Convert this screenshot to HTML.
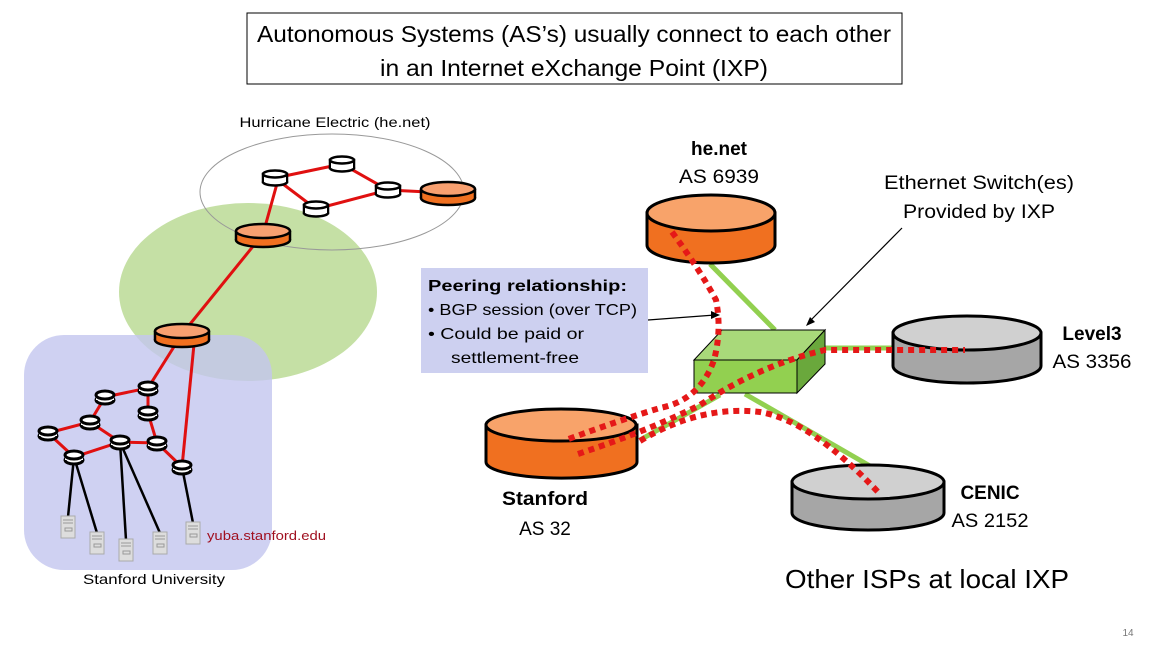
<!DOCTYPE html>
<html><head><meta charset="utf-8"><style>
html,body{margin:0;padding:0;background:#fff;}
svg{display:block;font-family:"Liberation Sans",sans-serif;}
</style></head><body>
<svg width="1152" height="648" viewBox="0 0 1152 648" xmlns="http://www.w3.org/2000/svg">
<defs>
<g id="sr"><rect x="-12" y="-4" width="24" height="8" fill="#fff" stroke="#000" stroke-width="2.5"/><ellipse cx="0" cy="4" rx="12" ry="3.5" fill="#fff" stroke="#000" stroke-width="2.5"/><rect x="-11" y="-4" width="22" height="8" fill="#fff"/><ellipse cx="0" cy="-4" rx="12" ry="3.5" fill="#fff" stroke="#000" stroke-width="2.5"/></g>
<g id="ss"><ellipse cx="0" cy="3" rx="9" ry="4" fill="#fff" stroke="#000" stroke-width="3"/><rect x="-9" y="-3" width="18" height="6" fill="#fff"/><ellipse cx="0" cy="-2" rx="9" ry="4" fill="#fff" stroke="#000" stroke-width="3"/></g>
<g id="or"><ellipse cx="0" cy="5" rx="27" ry="7" fill="#f07020" stroke="#000" stroke-width="2.5"/><rect x="-26" y="-4" width="52" height="9" fill="#f07020"/><line x1="-27" y1="-4" x2="-27" y2="5" stroke="#000" stroke-width="2.5"/><line x1="27" y1="-4" x2="27" y2="5" stroke="#000" stroke-width="2.5"/><ellipse cx="0" cy="-4" rx="27" ry="7" fill="#f8a070" stroke="#000" stroke-width="2.5"/></g>
<g id="sv"><rect x="-7" y="-11" width="14" height="22" fill="#ddd" stroke="#aaa"/><line x1="-5" y1="-7" x2="5" y2="-7" stroke="#999"/><line x1="-5" y1="-4" x2="5" y2="-4" stroke="#999"/><rect x="-3" y="1" width="7" height="3" fill="none" stroke="#999"/></g>
</defs>
<rect x="247" y="13" width="655" height="71" fill="#fff" stroke="#000" stroke-width="1"/>
<text x="574" y="42" font-size="23" text-anchor="middle" textLength="634" lengthAdjust="spacingAndGlyphs">Autonomous Systems (AS’s) usually connect to each other</text>
<text x="574" y="76" font-size="23" text-anchor="middle" textLength="388" lengthAdjust="spacingAndGlyphs">in an Internet eXchange Point (IXP)</text>
<text x="335" y="127" font-size="14" text-anchor="middle" textLength="191" lengthAdjust="spacingAndGlyphs">Hurricane Electric (he.net)</text>
<ellipse cx="248" cy="292" rx="129" ry="89" fill="#c5e0a5"/>
<ellipse cx="332" cy="192" rx="132" ry="58" fill="none" stroke="#999" stroke-width="1"/>
<rect x="24" y="335" width="248" height="235" rx="40" fill="#c3c6ef" fill-opacity="0.8"/>
<g stroke="#e01010" stroke-width="3" fill="none">
<path d="M275 178 L342 164 L388 190 L316 209 Z M342 164 L275 178"/>
<line x1="388" y1="190" x2="448" y2="193"/>
<line x1="278" y1="180" x2="263" y2="234"/>
<line x1="263" y1="234" x2="182" y2="334"/>
<line x1="182" y1="334" x2="148" y2="388"/>
<line x1="195" y1="334" x2="182" y2="467"/>
<path d="M148 388 L105 397 L90 422 L48 433 L74 457 L120 442 L157 443 L148 413 L148 388"/>
<path d="M90 422 L120 442 M157 443 L182 467"/>
</g>
<g stroke="#000" stroke-width="2.5"><line x1="74" y1="457" x2="68" y2="517"/><line x1="74" y1="457" x2="97" y2="533"/><line x1="120" y1="442" x2="126" y2="540"/><line x1="120" y1="442" x2="160" y2="533"/><line x1="182" y1="467" x2="193" y2="523"/></g>
<use href="#sr" x="275" y="178"/><use href="#sr" x="342" y="164"/><use href="#sr" x="388" y="190"/><use href="#sr" x="316" y="209"/>
<use href="#or" x="448" y="193"/><use href="#or" x="263" y="235"/><use href="#or" x="182" y="335"/>
<use href="#ss" x="148" y="388"/><use href="#ss" x="105" y="397"/><use href="#ss" x="148" y="413"/><use href="#ss" x="90" y="422"/><use href="#ss" x="48" y="433"/><use href="#ss" x="120" y="442"/><use href="#ss" x="157" y="443"/><use href="#ss" x="74" y="457"/><use href="#ss" x="182" y="467"/>
<use href="#sv" x="68" y="527"/><use href="#sv" x="97" y="543"/><use href="#sv" x="126" y="550"/><use href="#sv" x="160" y="543"/><use href="#sv" x="193" y="533"/>
<text x="207" y="540" font-size="13" fill="#a01020" textLength="119" lengthAdjust="spacingAndGlyphs">yuba.stanford.edu</text>
<text x="154" y="584" font-size="14" text-anchor="middle" textLength="142" lengthAdjust="spacingAndGlyphs">Stanford University</text>

<g stroke="#92d050" stroke-width="5"><line x1="710" y1="264" x2="775" y2="330"/><line x1="640" y1="440" x2="720" y2="395"/><line x1="745" y1="394" x2="870" y2="466"/><line x1="825" y1="348" x2="895" y2="348"/></g>
<path d="M647 213 V245 A64 18 0 0 0 775 245 V213 Z" fill="#f07020" stroke="#000" stroke-width="3"/>
<ellipse cx="711" cy="213" rx="64" ry="18" fill="#f8a36a" stroke="#000" stroke-width="3"/>
<path d="M486 425 V462 A75 16 0 0 0 637 462 V425 Z" fill="#f07020" stroke="#000" stroke-width="3"/>
<ellipse cx="561" cy="425" rx="75" ry="16" fill="#f8a36a" stroke="#000" stroke-width="3"/>
<path d="M893 333 V366 A74 17 0 0 0 1041 366 V333 Z" fill="#a6a6a6" stroke="#000" stroke-width="3"/>
<ellipse cx="967" cy="333" rx="74" ry="17" fill="#d0d0d0" stroke="#000" stroke-width="3"/>
<path d="M792 482 V513 A76 17 0 0 0 944 513 V482 Z" fill="#a6a6a6" stroke="#000" stroke-width="3"/>
<ellipse cx="868" cy="482" rx="76" ry="17" fill="#d0d0d0" stroke="#000" stroke-width="3"/>
<polygon points="694,360 722,330 825,330 797,360" fill="#a9d97a" stroke="#000" stroke-width="1"/>
<polygon points="797,360 825,330 825,364 797,393" fill="#6aa83c" stroke="#000" stroke-width="1"/>
<rect x="694" y="360" width="103" height="33" fill="#92d050" stroke="#000" stroke-width="1"/>
<g stroke="#e51818" stroke-width="6" fill="none" stroke-dasharray="6 5">
<path d="M672 232 Q700 270 716 300 Q722 330 714 360 Q700 400 660 408 Q620 420 566 440"/>
<path d="M578 454 Q650 430 700 405 Q760 365 825 350 L965 350"/>
<path d="M640 441 Q700 405 760 412 Q810 420 878 492"/>
</g>
<line x1="648" y1="320" x2="715" y2="315" stroke="#000" stroke-width="1.2"/>
<polygon points="720,315 711,311 711,319" fill="#000"/>
<line x1="902" y1="228" x2="808" y2="323" stroke="#000" stroke-width="1.2"/>
<polygon points="806,326 810,317 815,322" fill="#000"/>
<rect x="421" y="268" width="227" height="105" fill="#cdd0f0"/>
<text x="428" y="291" font-size="16" font-weight="bold" textLength="199" lengthAdjust="spacingAndGlyphs">Peering relationship:</text>
<text x="428" y="315" font-size="16" textLength="209" lengthAdjust="spacingAndGlyphs">•  BGP session (over TCP)</text>
<text x="428" y="339" font-size="16" textLength="156" lengthAdjust="spacingAndGlyphs">•  Could be paid or</text>
<text x="451" y="363" font-size="16" textLength="128" lengthAdjust="spacingAndGlyphs">settlement-free</text>
<text x="719" y="155" font-size="19" font-weight="bold" text-anchor="middle">he.net</text>
<text x="719" y="183" font-size="19" text-anchor="middle" textLength="80" lengthAdjust="spacingAndGlyphs">AS 6939</text>
<text x="979" y="189" font-size="19" text-anchor="middle" textLength="190" lengthAdjust="spacingAndGlyphs">Ethernet Switch(es)</text>
<text x="979" y="218" font-size="19" text-anchor="middle" textLength="152" lengthAdjust="spacingAndGlyphs">Provided by IXP</text>
<text x="1092" y="340" font-size="19" font-weight="bold" text-anchor="middle">Level3</text>
<text x="1092" y="368" font-size="19" text-anchor="middle" textLength="79" lengthAdjust="spacingAndGlyphs">AS 3356</text>
<text x="990" y="499" font-size="19" font-weight="bold" text-anchor="middle">CENIC</text>
<text x="990" y="527" font-size="19" text-anchor="middle" textLength="77" lengthAdjust="spacingAndGlyphs">AS 2152</text>
<text x="545" y="505" font-size="19" font-weight="bold" text-anchor="middle" textLength="86" lengthAdjust="spacingAndGlyphs">Stanford</text>
<text x="545" y="535" font-size="19" text-anchor="middle">AS 32</text>
<text x="927" y="588" font-size="26" text-anchor="middle" textLength="284" lengthAdjust="spacingAndGlyphs">Other ISPs at local IXP</text>
<text x="1128" y="636" font-size="10" fill="#777" text-anchor="middle">14</text>
</svg>
</body></html>
